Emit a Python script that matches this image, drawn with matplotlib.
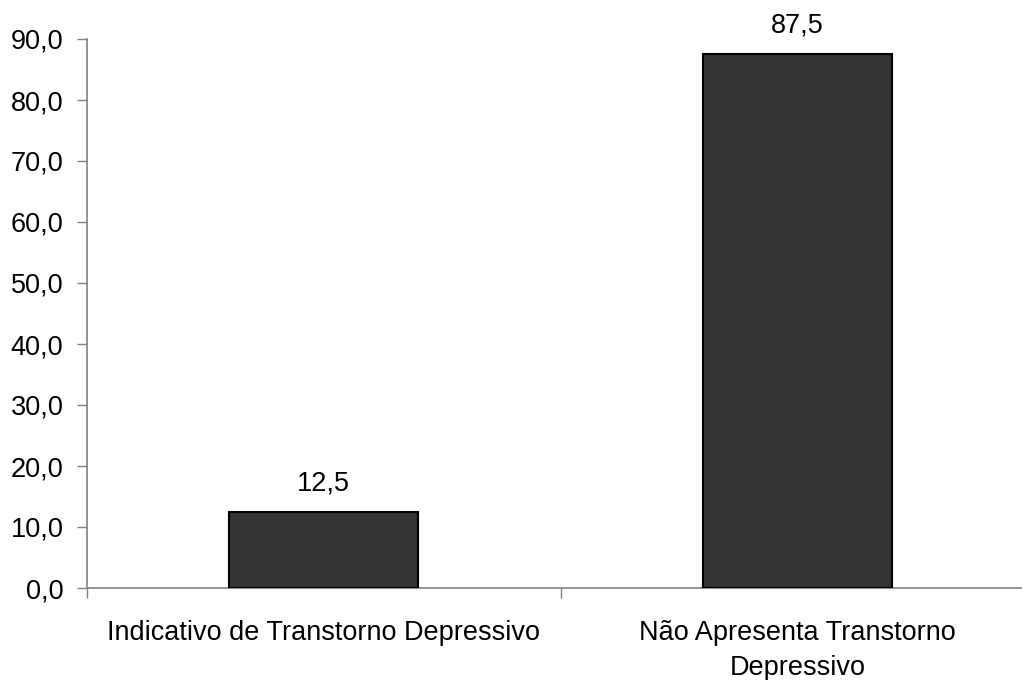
import matplotlib
matplotlib.use("Agg")
import matplotlib.pyplot as plt

categories = ["Indicativo de Transtorno Depressivo", "Não Apresenta Transtorno\nDepressivo"]
values = [12.5, 87.5]
y_ticks = [0, 10, 20, 30, 40, 50, 60, 70, 80, 90]

plt.rcParams["font.family"] = ["Liberation Sans", "DejaVu Sans"]
plt.rcParams["font.size"] = 19.5

def br(v):
    return f"{v:.1f}".replace(".", ",")

fig = plt.figure(figsize=(10.22, 6.8), dpi=100)
ax = fig.add_axes([87 / 1022, (680 - 588) / 680, 947 / 1022, (588 - 39) / 680])

x = list(range(len(categories)))
bars = ax.bar(x, values, width=0.4, color="#333333", edgecolor="black", linewidth=1.5, zorder=3)

for rect, v in zip(bars, values):
    ax.annotate(br(v), (rect.get_x() + rect.get_width() / 2, rect.get_height()),
                xytext=(0, 11), textcoords="offset points", ha="center", va="bottom",
                fontsize=19.5, color="black")

ax.set_xlim(-0.5, 1.5)
ax.set_ylim(0, 90)
ax.set_yticks(y_ticks)
ax.set_yticklabels([br(t) for t in y_ticks])

ax.set_xticks([-0.5, 0.5, 1.5])
ax.set_xticklabels([])
ax.set_xticks(x, minor=True)
ax.set_xticklabels(categories, minor=True, linespacing=1.45)
ax.tick_params(axis="x", which="minor", length=0, pad=23)
ax.tick_params(axis="x", which="major", length=7, width=1, color="#808080", direction="out")
ax.tick_params(axis="y", length=7, width=1, color="#808080", direction="out", pad=10)

for side in ["top", "right"]:
    ax.spines[side].set_visible(False)
for side in ["left", "bottom"]:
    ax.spines[side].set_color("#808080")
    ax.spines[side].set_linewidth(1.2)

fig.savefig("out.png", dpi=100)
